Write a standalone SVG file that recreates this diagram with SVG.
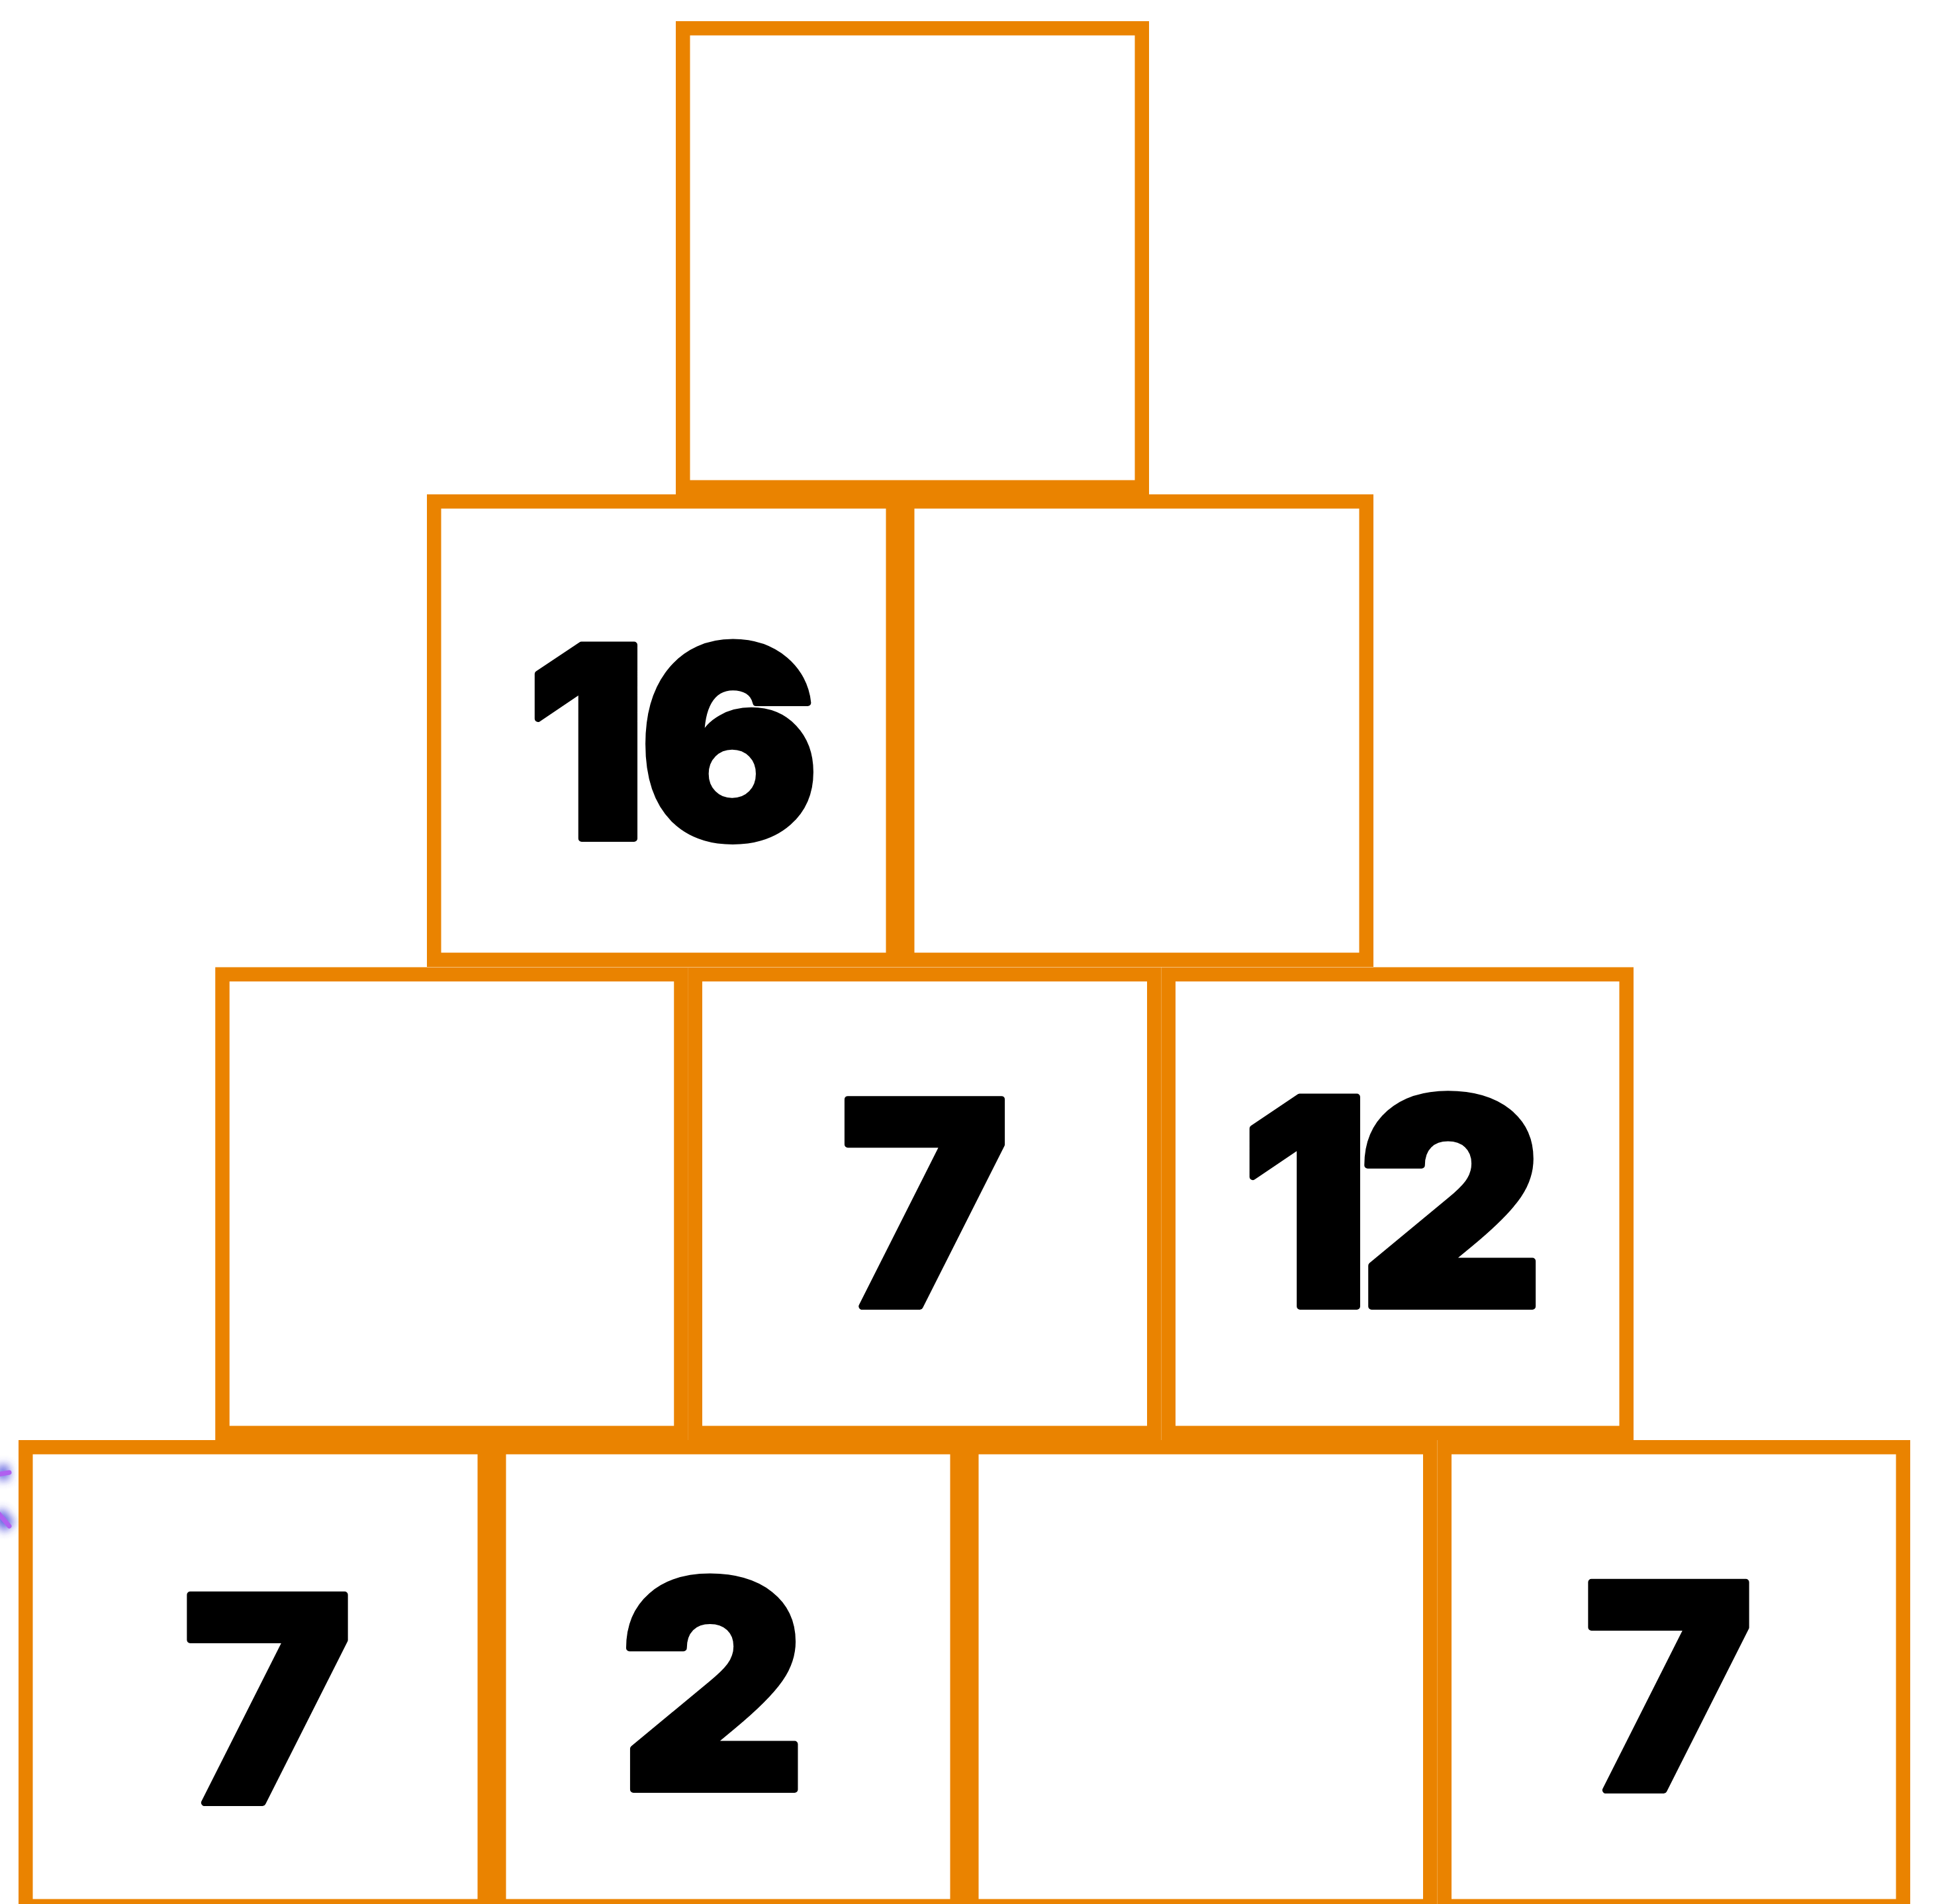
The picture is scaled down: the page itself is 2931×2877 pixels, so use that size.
<svg xmlns="http://www.w3.org/2000/svg" width="2931" height="2877" viewBox="0 0 2931 2877">
<defs>
<style>
.box{fill:#FFFFFF;stroke:#EA8300;stroke-width:21.5}
.num{font-family:Inter,Roboto,"Liberation Sans",sans-serif;font-weight:900;fill:#000000;stroke:#000000;stroke-width:10;stroke-linejoin:round;text-anchor:middle}
</style>
<filter id="glow" x="-2" y="-2" width="5" height="5">
<feGaussianBlur stdDeviation="7"/>
</filter>
</defs>
<rect width="2931" height="2877" fill="#FFFFFF"/>
<g id="glow-mark">
<path d="M-4 2226 L14 2224 M-4 2286 L14 2308" stroke="#3A3AD8" stroke-width="22" fill="none" filter="url(#glow)" opacity="0.8"/>
<path d="M-4 2228 L14 2225 M-2 2287 L14 2306" stroke="#B060F0" stroke-width="7" stroke-linecap="round" fill="none"/>
</g>
<g id="row4">
<g id="b41"><rect class="box" x="38.75" y="2186.75" width="693.5" height="693.5"/><text class="num" x="404" y="2724" font-size="432">7</text></g>
<g id="b42"><rect class="box" x="753.75" y="2186.75" width="692.5" height="693.5"/><text class="num" x="1077" y="2704" font-size="436">2</text></g>
<g id="b43"><rect class="box" x="1467.75" y="2186.75" width="693" height="693.5"/></g>
<g id="b44"><rect class="box" x="2182.25" y="2186.75" width="693" height="693.5"/><text class="num" x="2521" y="2705" font-size="432">7</text></g>
</g>
<g id="row3">
<g id="b31"><rect class="box" x="336" y="1472.25" width="693" height="693"/></g>
<g id="b32"><rect class="box" x="1050.25" y="1472.25" width="693.5" height="693"/><text class="num" x="1397" y="1974" font-size="430">7</text></g>
<g id="b33"><rect class="box" x="1765.25" y="1472.25" width="692" height="693"/><text class="num" y="1974" font-size="435"><tspan x="1972">1</tspan><tspan x="2192">2</tspan></text></g>
</g>
<g id="row2">
<g id="b21"><rect class="box" x="655.75" y="757.75" width="693.5" height="692.5"/><text class="num" y="1267" font-size="402"><tspan x="886">1</tspan><tspan x="1102">6</tspan></text></g>
<g id="b22"><rect class="box" x="1370.75" y="757.75" width="693.5" height="692.5"/></g>
</g>
<g id="row1">
<g id="b11"><rect class="box" x="1031.75" y="42.75" width="693.5" height="693.5"/></g>
</g>
<g id="connectors"></g>
</svg>
